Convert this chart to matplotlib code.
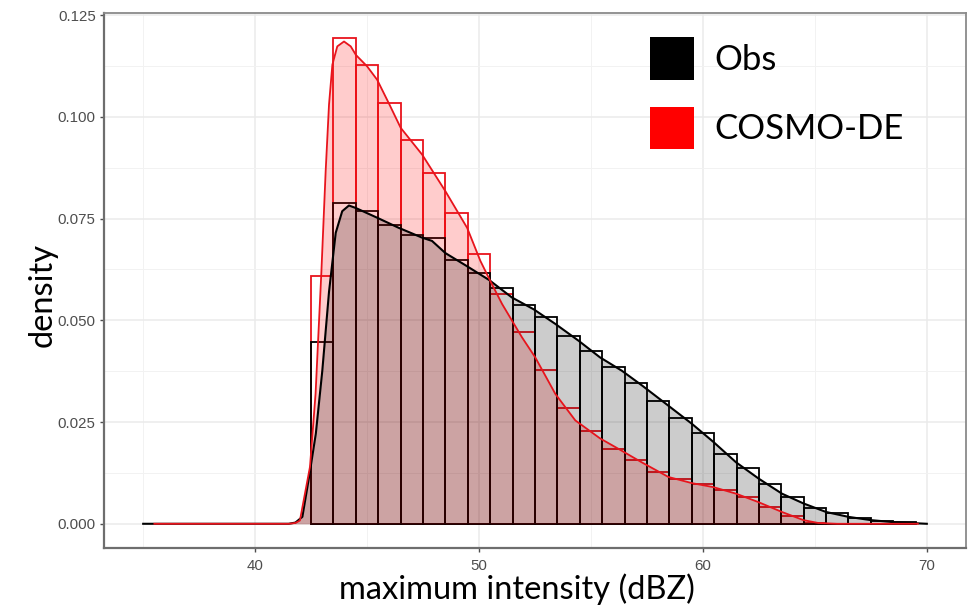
import numpy as np
import matplotlib.pyplot as plt
from matplotlib.patches import Rectangle

# histogram bins (1 dBZ wide, centred on whole numbers)
bin_centers = list(range(43, 70))
obs_hist = [0.0446, 0.0787, 0.0768, 0.0733, 0.0710, 0.0702, 0.0647, 0.0617, 0.0579,
            0.0538, 0.0508, 0.0462, 0.0425, 0.0386, 0.0345, 0.0302, 0.0261, 0.0224,
            0.0171, 0.0136, 0.0098, 0.0065, 0.0038, 0.0026, 0.0013, 0.0007, 0.0005]
cosmo_hist = [0.0608, 0.1194, 0.1127, 0.1034, 0.0944, 0.0861, 0.0763, 0.0662, 0.0565,
              0.0471, 0.0379, 0.0285, 0.0229, 0.0183, 0.0157, 0.0127, 0.0110, 0.0098,
              0.0082, 0.0065, 0.0042, 0.0020, 0.0003, 0.0, 0.0, 0.0, 0.0]

# kernel density estimates
obs_dens_x = [35, 41.5, 41.8, 42.11, 42.41, 42.71, 43.0, 43.3, 43.6, 43.89, 44.19, 44.49,
              45.45, 46.42, 47.46, 47.9, 48.5, 49.4, 50.45, 51.47, 52.44, 53.41,
              54.44, 55.4, 56.38, 57.3, 58.46, 59.5, 60.47, 61.48, 62.49, 63.53,
              64.49, 65.5, 66.5, 67.5, 68.5, 70]
obs_dens_y = [0, 0, 0.0003, 0.0017, 0.0115, 0.0221, 0.0376, 0.057, 0.0715, 0.0768, 0.0782,
              0.0776, 0.0752, 0.0727, 0.0703, 0.0695, 0.0665, 0.0635, 0.0599, 0.0556,
              0.0527, 0.0491, 0.045, 0.0409, 0.0376, 0.0339, 0.029, 0.0246, 0.0201,
              0.0151, 0.0111, 0.0074, 0.005, 0.0029, 0.0017, 0.0009, 0.0004, 0]
cosmo_dens_x = [35.5, 41.5, 41.8, 42.0, 42.45, 42.7, 42.96, 43.15, 43.3, 43.45, 43.67, 43.97,
                44.27, 44.5, 45.0, 45.45, 46.0, 46.5, 47.46, 48.5, 49.47, 50.06, 50.5,
                51.03, 51.92, 52.51, 53.41, 54.3, 55.4, 56.2, 57.3, 58.46, 59.5, 60.47,
                61.48, 62.49, 63.53, 64.49, 65.15, 66, 69.6]
cosmo_dens_y = [0, 0, 0.0002, 0.0008, 0.014, 0.032, 0.062, 0.0866, 0.103, 0.1128, 0.1173,
                0.1185, 0.1173, 0.1152, 0.1124, 0.1091, 0.103, 0.0973, 0.0907, 0.0817,
                0.0727, 0.0646, 0.0597, 0.054, 0.0458, 0.0409, 0.0319, 0.0254, 0.021,
                0.0185, 0.015, 0.0115, 0.0100, 0.0090, 0.0074, 0.0053, 0.0029, 0.0009,
                0.0002, 0, 0]

W, H = 973, 609
fig = plt.figure(figsize=(W / 100, H / 100), dpi=100)
ax = fig.add_axes([104 / W, (H - 548) / H, (966 - 104) / W, (548 - 13) / H])

# panel grid like theme_bw
for x in [40, 50, 60, 70]:
    ax.axvline(x, color="#ebebeb", lw=1.1, zorder=0)
for x in [35, 45, 55, 65]:
    ax.axvline(x, color="#f2f2f2", lw=0.7, zorder=0)
for y in np.arange(0, 0.126, 0.025):
    ax.axhline(y, color="#ebebeb", lw=1.1, zorder=0)
for y in np.arange(0.0125, 0.126, 0.025):
    ax.axhline(y, color="#f2f2f2", lw=0.7, zorder=0)

# histogram outlines
ax.bar(bin_centers, cosmo_hist, width=1, fill=False, edgecolor="#e8141c", lw=1.3, zorder=1)
ax.bar(bin_centers, obs_hist, width=1, fill=False, edgecolor="black", lw=1.3, zorder=1)

# density areas
ax.fill_between(cosmo_dens_x, cosmo_dens_y, color="red", alpha=0.2, lw=0, zorder=2)
ax.fill_between(obs_dens_x, obs_dens_y, color="black", alpha=0.2, lw=0, zorder=2)

# density lines
ax.plot(obs_dens_x, obs_dens_y, color="black", lw=1.5, zorder=3)
ax.plot(cosmo_dens_x, cosmo_dens_y, color="#e8141c", lw=1.3, zorder=3)

ax.set_xlim(33.25, 71.75)
ax.set_ylim(-0.00595, 0.1255)
ax.set_xticks([40, 50, 60, 70])
ax.set_yticks([0, 0.025, 0.05, 0.075, 0.1, 0.125])
ax.set_yticklabels(["0.000", "0.025", "0.050", "0.075", "0.100", "0.125"])
ax.tick_params(colors="#4d4d4d", labelsize=10.8, length=3, width=1, labelcolor="#4d4d4d")
ax.tick_params(axis="x", pad=5)
ax.tick_params(axis="y", pad=3)
for lab in ax.get_xticklabels() + ax.get_yticklabels():
    lab.set_family("Liberation Sans")
for side in ["left", "bottom"]:
    ax.spines[side].set_color("#6e6e6e")
    ax.spines[side].set_linewidth(1.6)
for side in ["top", "right"]:
    ax.spines[side].set_color("#8a8a8a")
    ax.spines[side].set_linewidth(1.3)

fig.text(43 / W, 1 - 295 / H, "density", rotation=90, ha="center", va="center",
         fontsize=23.5, family="Lato")
fig.text(517 / W, 1 - 589 / H, "maximum intensity (dBZ)", ha="center", va="center",
         fontsize=23.5, family="Lato")

# legend keys
def px_rect(x0, y0, x1, y1, color):
    fig.add_artist(Rectangle((x0 / W, 1 - y1 / H), (x1 - x0) / W, (y1 - y0) / H,
                             transform=fig.transFigure, facecolor=color, edgecolor="none"))

px_rect(650, 37, 694, 80, "black")
px_rect(650, 107, 694, 149, "red")
fig.text(714 / W, 1 - 60 / H, "Obs", ha="left", va="center", fontsize=25, family="Lato")
fig.text(714 / W, 1 - 129 / H, "COSMO-DE", ha="left", va="center", fontsize=25, family="Lato")

fig.savefig("out.png", dpi=100)
